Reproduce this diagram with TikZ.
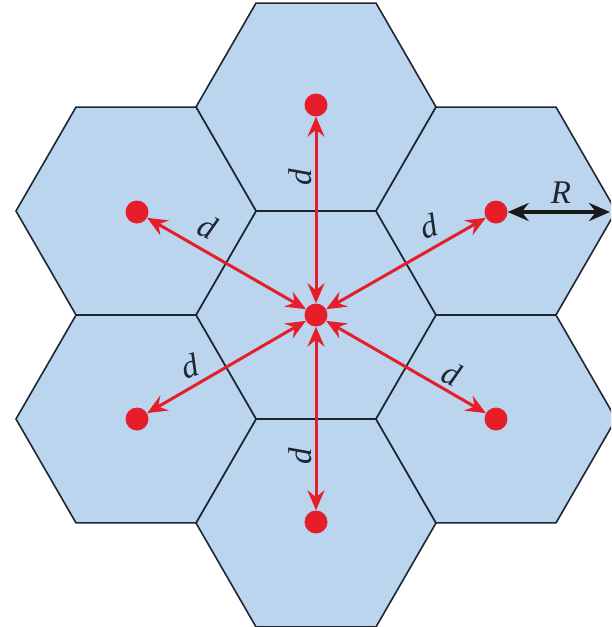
\documentclass[tikz,border=0pt]{standalone}
\usepackage{fontspec}
\setmainfont{Liberation Serif}
\usetikzlibrary{arrows.meta}
\definecolor{hexfill}{RGB}{186,213,237}
\definecolor{hexline}{RGB}{30,38,52}
\definecolor{dotred}{RGB}{230,30,42}
\tikzset{
  hexcell/.style={draw=hexline, fill=hexfill, line width=1.6pt, line join=miter},
  dotnode/.style={circle, fill=dotred, draw=none, minimum size=23pt, inner sep=0pt},
  darr/.style={draw=dotred, line width=3pt, {Stealth[length=20pt,width=17pt,inset=7pt]}-{Stealth[length=20pt,width=17pt,inset=7pt]}},
  rarr/.style={draw=black!90, line width=3.4pt, {Stealth[length=21pt,width=18pt,inset=7pt]}-{Stealth[length=21pt,width=18pt,inset=7pt]}},
  lab/.style={inner sep=0pt, font=\fontsize{33}{36}\selectfont\itshape, text=hexline}
}
\begin{document}
\begin{tikzpicture}[x=1pt,y=-1pt]
\useasboundingbox (0,0) rectangle (611,627);
\clip (0,0) rectangle (611,627);
% hexagon cells
\foreach \cx/\cy in {316/315, 316/107, 316/523, 136/211, 496/211, 136/419, 496/419}{
  \draw[hexcell] (\cx,\cy) +(0:120) -- +(60:120) -- +(120:120) -- +(180:120) -- +(240:120) -- +(300:120) -- cycle;
}
% dots
\node[dotnode] (c)  at (316,315) {};
\node[dotnode] (t)  at (316,105) {};
\node[dotnode] (b)  at (316,522) {};
\node[dotnode] (ul) at (137,212) {};
\node[dotnode] (ur) at (496,212) {};
\node[dotnode] (ll) at (137,419) {};
\node[dotnode] (lr) at (496,419) {};
% d arrows
\draw[darr] (c) -- (t);
\draw[darr] (c) -- (b);
\draw[darr] (c) -- (ul);
\draw[darr] (c) -- (ur);
\draw[darr] (c) -- (ll);
\draw[darr] (c) -- (lr);
% R arrow
\coordinate (redge) at (610,212);
\draw[rarr] (ur) -- (redge);
% labels
\node[lab, rotate=90]  (dt)  at (300,177) {d};
\node[lab, rotate=90]  (db)  at (300,456) {d};
\node[lab, rotate=-25] (dul) at (208,227) {d};
\node[lab, rotate=18]  (dur) at (429,226) {d};
\node[lab, rotate=18]  (dll) at (190,366) {d};
\node[lab, rotate=-25] (dlr) at (452,374) {d};
\node[lab] (rl) at (561,193) {R};
\end{tikzpicture}
\end{document}
